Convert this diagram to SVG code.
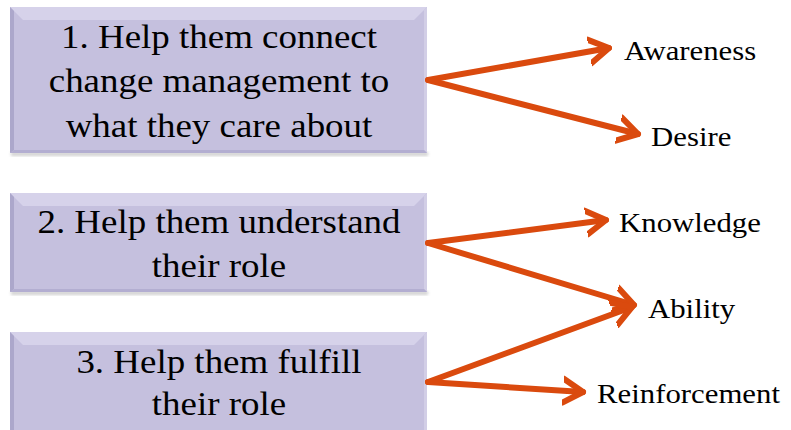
<svg xmlns="http://www.w3.org/2000/svg" width="791" height="430" viewBox="0 0 791 430">
<defs>
<style>
.face{fill:#C5C0DE}
.top{fill:#D6D2EA}
.left{fill:#ACA7CB}
.right{fill:#D2CEE6}
.bot{fill:#B3AED1}
.shadow{fill:#9a9a9a;opacity:0.45}
.bt{font-family:'Liberation Serif','Times New Roman',Times,serif;font-size:33px;fill:#000;text-anchor:middle}
.lb{font-family:'Liberation Serif','Times New Roman',Times,serif;font-size:27.5px;fill:#000}
.conn{fill:none;stroke:#DA4A0E;stroke-width:6;stroke-linecap:round;stroke-linejoin:round}
</style>
<filter id="blur" x="-5%" y="-20%" width="110%" height="140%"><feGaussianBlur stdDeviation="1.5"/></filter>
<marker id="arr" markerUnits="userSpaceOnUse" markerWidth="40" markerHeight="40" refX="20" refY="20" orient="auto" viewBox="0 0 40 40">
<path d="M0,8 L20,20 L0,32" fill="none" stroke="#DA4A0E" stroke-width="6" stroke-linecap="round" stroke-linejoin="round"/>
</marker>
</defs>

<g id="node1">
<rect class="shadow" x="11" y="152" width="417" height="4" filter="url(#blur)"/>
<rect class="face" x="10" y="7" width="417" height="146"/>
<polygon class="top" points="10,7 427,7 414,20 23,20"/>
<polygon class="left" points="10,7 14,11 14,150 10,153"/>
<polygon class="right" points="427,7 427,153 424,150 424,10"/>
<polygon class="bot" points="10,153 427,153 424,150 14,150"/>
<text class="bt" x="219" y="48" font-family="Liberation Serif" transform="translate(219 0) scale(1.12 1) translate(-219 0)">1. Help them connect</text>
<text class="bt" x="219" y="92" font-family="Liberation Serif" transform="translate(219 0) scale(1.12 1) translate(-219 0)">change management to</text>
<text class="bt" x="219" y="137" font-family="Liberation Serif" transform="translate(219 0) scale(1.12 1) translate(-219 0)">what they care about</text>
</g>

<g id="node2">
<rect class="shadow" x="11" y="291" width="417" height="4" filter="url(#blur)"/>
<rect class="face" x="10" y="193" width="417" height="99"/>
<polygon class="top" points="10,193 427,193 414,206 23,206"/>
<polygon class="left" points="10,193 14,197 14,289 10,292"/>
<polygon class="right" points="427,193 427,292 424,289 424,196"/>
<polygon class="bot" points="10,292 427,292 424,289 14,289"/>
<text class="bt" x="219" y="233" font-family="Liberation Serif" transform="translate(219 0) scale(1.12 1) translate(-219 0)">2. Help them understand</text>
<text class="bt" x="219" y="277" font-family="Liberation Serif" transform="translate(219 0) scale(1.12 1) translate(-219 0)">their role</text>
</g>

<g id="node3">
<rect class="face" x="10" y="332" width="417" height="100"/>
<polygon class="top" points="10,332 427,332 414,345 23,345"/>
<polygon class="left" points="10,332 14,336 14,432 10,432"/>
<polygon class="right" points="427,332 427,432 424,432 424,335"/>
<text class="bt" x="219" y="373" font-family="Liberation Serif" transform="translate(219 0) scale(1.12 1) translate(-219 0)">3. Help them fulfill</text>
<text class="bt" x="219" y="415" font-family="Liberation Serif" transform="translate(219 0) scale(1.12 1) translate(-219 0)">their role</text>
</g>

<g id="connectors">
<line class="conn" x1="428" y1="80" x2="609" y2="48" marker-end="url(#arr)"/>
<line class="conn" x1="428" y1="80" x2="638" y2="134" marker-end="url(#arr)"/>
<line class="conn" x1="428" y1="243" x2="606" y2="220" marker-end="url(#arr)"/>
<line class="conn" x1="428" y1="243" x2="634" y2="305" marker-end="url(#arr)"/>
<line class="conn" x1="428" y1="382" x2="632" y2="307" marker-end="url(#arr)"/>
<line class="conn" x1="428" y1="382" x2="583" y2="392" marker-end="url(#arr)"/>
</g>

<g id="label-awareness"><text class="lb" x="624" y="60" font-family="Liberation Serif" transform="translate(624 0) scale(1.12 1) translate(-624 0)">Awareness</text></g>
<g id="label-desire"><text class="lb" x="651" y="146" font-family="Liberation Serif" transform="translate(651 0) scale(1.12 1) translate(-651 0)">Desire</text></g>
<g id="label-knowledge"><text class="lb" x="619" y="232" font-family="Liberation Serif" transform="translate(619 0) scale(1.12 1) translate(-619 0)">Knowledge</text></g>
<g id="label-ability"><text class="lb" x="648" y="318" font-family="Liberation Serif" transform="translate(648 0) scale(1.12 1) translate(-648 0)">Ability</text></g>
<g id="label-reinforcement"><text class="lb" x="597" y="403" font-family="Liberation Serif" transform="translate(597 0) scale(1.12 1) translate(-597 0)">Reinforcement</text></g>
</svg>
